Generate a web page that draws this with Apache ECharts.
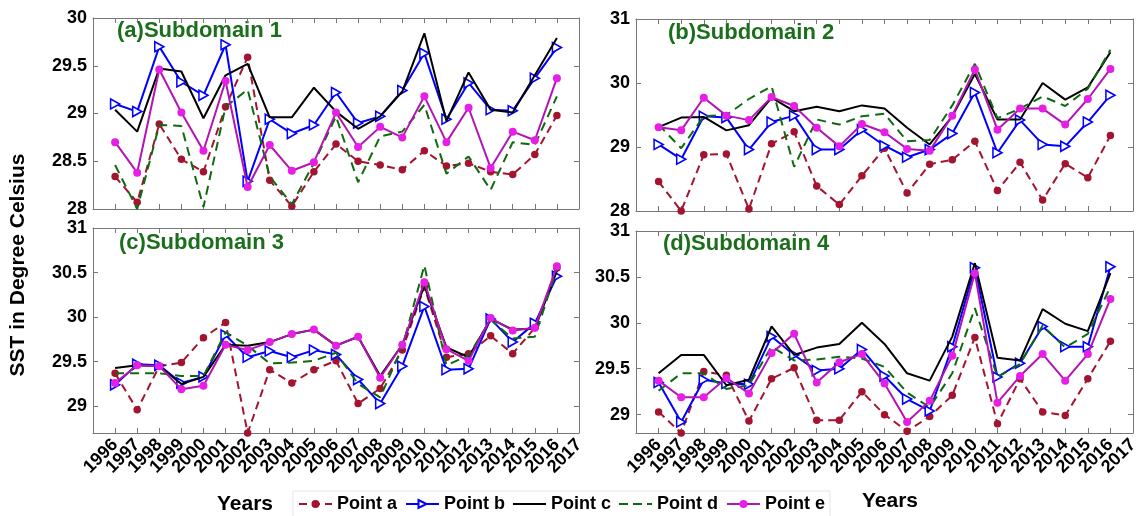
<!DOCTYPE html>
<html><head><meta charset="utf-8">
<script src="https://cdn.jsdelivr.net/npm/echarts@6/dist/echarts.min.js"></script>
<style>html,body{margin:0;padding:0;background:#fff}#c{width:1144px;height:516px}</style>
</head><body><div id="c"></div>
<script>
// ---------- data ----------
const years = [1996,1997,1998,1999,2000,2001,2002,2003,2004,2005,2006,2007,2008,2009,2010,2011,2012,2013,2014,2015,2016];
const xTickYears = [1996,1997,1998,1999,2000,2001,2002,2003,2004,2005,2006,2007,2008,2009,2010,2011,2012,2013,2014,2015,2016,2017];
const seriesNames = ['Point a','Point b','Point c','Point d','Point e'];
const panelTitles = ['(a)Subdomain 1','(b)Subdomain 2','(c)Subdomain 3','(d)Subdomain 4'];
const yTicksA = [28,28.5,29,29.5,30];
const yTicksB = [28,29,30,31];
const yTicksC = [29,29.5,30,30.5,31];
const yTicksD = [29,29.5,30,30.5,31];
const yRangeA = [28,30];
const yRangeB = [28,31];
const yRangeC = [28.7,31];
const yRangeD = [28.8,31];
const xLabel = 'Years';
const yLabel = 'SST in Degree Celsius';

// Subdomain 1
const sub1_a = [28.34,28.07,28.89,28.52,28.39,29.07,29.59,28.30,28.03,28.39,28.68,28.50,28.46,28.41,28.61,28.45,28.48,28.39,28.36,28.57,28.98];
const sub1_b = [29.10,29.02,29.70,29.33,29.19,29.72,28.29,28.94,28.79,28.88,29.22,28.90,28.97,29.24,29.63,28.94,29.32,29.04,29.03,29.37,29.69];
const sub1_c = [29.04,28.81,29.47,29.44,28.95,29.40,29.52,28.96,28.96,29.27,29.02,28.84,28.97,29.23,29.84,28.92,29.43,29.04,29.01,29.40,29.79];
const sub1_d = [28.46,28.00,28.88,28.87,28.02,29.07,29.25,28.34,28.05,28.48,28.97,28.28,28.76,28.81,29.09,28.37,28.55,28.20,28.70,28.67,29.18];
const sub1_e = [28.70,28.38,29.46,29.01,28.61,29.34,28.23,28.67,28.40,28.49,29.01,28.65,28.86,28.75,29.18,28.70,29.06,28.43,28.81,28.72,29.37];
// Subdomain 2
const sub2_a = [28.46,28.00,28.88,28.89,28.03,29.05,29.24,28.39,28.10,28.55,28.98,28.28,28.73,28.80,29.09,28.32,28.76,28.17,28.74,28.52,29.18];
const sub2_b = [29.04,28.81,29.48,29.46,28.96,29.39,29.49,28.96,28.96,29.27,29.02,28.84,28.96,29.21,29.85,28.91,29.42,29.04,29.01,29.39,29.81];
const sub2_c = [29.31,29.46,29.47,29.26,29.34,29.77,29.56,29.63,29.56,29.65,29.60,29.30,29.04,29.48,30.14,29.43,29.43,30.00,29.74,29.93,30.48];
const sub2_d = [29.35,28.98,29.48,29.50,29.75,29.95,28.69,29.43,29.35,29.48,29.52,29.09,29.11,29.65,30.30,29.45,29.60,29.79,29.64,29.91,30.52];
const sub2_e = [29.31,29.26,29.77,29.49,29.42,29.78,29.64,29.30,29.01,29.36,29.23,28.97,28.94,29.49,30.21,29.27,29.60,29.60,29.35,29.75,30.22];
// Subdomain 3
const sub3_a = [29.37,28.96,29.45,29.49,29.77,29.94,28.70,29.41,29.26,29.41,29.51,29.03,29.20,29.63,30.34,29.55,29.59,29.79,29.59,29.88,30.55];
const sub3_b = [29.24,29.47,29.46,29.26,29.33,29.80,29.55,29.62,29.55,29.63,29.58,29.30,29.03,29.45,30.12,29.41,29.42,29.98,29.72,29.93,30.46];
const sub3_c = [29.43,29.46,29.45,29.25,29.33,29.69,29.68,29.72,29.81,29.86,29.68,29.78,29.34,29.69,30.35,29.66,29.55,29.98,29.86,29.87,30.52];
const sub3_d = [29.37,29.37,29.37,29.34,29.34,29.83,29.68,29.48,29.49,29.51,29.60,29.25,29.10,29.66,30.58,29.46,29.57,29.97,29.76,29.78,30.54];
const sub3_e = [29.26,29.46,29.45,29.19,29.23,29.69,29.63,29.72,29.81,29.86,29.68,29.78,29.32,29.69,30.39,29.64,29.51,29.99,29.85,29.88,30.57];
// Subdomain 4
const sub4_a = [29.03,28.80,29.47,29.43,28.93,29.39,29.51,28.94,28.94,29.25,29.00,28.82,28.98,29.21,29.84,28.90,29.39,29.03,28.99,29.39,29.80];
const sub4_b = [29.35,28.92,29.38,29.34,29.33,29.85,29.65,29.48,29.50,29.71,29.42,29.17,29.04,29.74,30.60,29.41,29.56,29.96,29.74,29.74,30.61];
const sub4_c = [29.45,29.65,29.65,29.32,29.38,29.96,29.65,29.73,29.77,30.00,29.77,29.45,29.37,29.85,30.65,29.62,29.59,30.15,29.99,29.91,30.54];
const sub4_d = [29.26,29.45,29.45,29.28,29.32,29.74,29.59,29.60,29.63,29.61,29.52,29.24,29.08,29.45,30.16,29.41,29.55,29.97,29.73,29.88,30.39];
const sub4_e = [29.37,29.19,29.19,29.40,29.23,29.67,29.88,29.35,29.57,29.66,29.34,28.92,29.15,29.64,30.54,29.13,29.42,29.66,29.37,29.66,30.26];

// ---------- layout / style ----------
const panels = [
  {vals:[sub1_a,sub1_b,sub1_c,sub1_d,sub1_e], ticks:yTicksA, range:yRangeA, grid:{left:93, top:18, width:486, height:191}, labels:false, title:[117,31]},
  {vals:[sub2_a,sub2_b,sub2_c,sub2_d,sub2_e], ticks:yTicksB, range:yRangeB, grid:{left:636, top:19, width:497, height:192}, labels:false, title:[668,33]},
  {vals:[sub3_a,sub3_b,sub3_c,sub3_d,sub3_e], ticks:yTicksC, range:yRangeC, grid:{left:93, top:228, width:486, height:205}, labels:true, title:[119,243]},
  {vals:[sub4_a,sub4_b,sub4_c,sub4_d,sub4_e], ticks:yTicksD, range:yRangeD, grid:{left:636, top:231, width:497, height:202}, labels:true, title:[663,244]}
];
const FONT = '"Liberation Sans", Arial, sans-serif';
const frameColor = '#777777';
const green = '#0f690f';
const titleGreen = '#1b6e1b';
const styles = [
  {line:{color:'#a2142f', width:2, type:[8,5]}, item:{color:'#a2142f'}, symbol:'circle', size:7.5},
  {line:{color:'#0000ff', width:2}, item:{color:'#ffffff', borderColor:'#0000ff', borderWidth:1.6}, symbol:'path://M0,0L10,5L0,10Z', size:[9,10]},
  {line:{color:'#000000', width:2}, item:{color:'#000000'}, symbol:'none', size:0},
  {line:{color:green, width:2, type:[9,6]}, item:{color:green}, symbol:'none', size:0},
  {line:{color:'#b414b4', width:2}, item:{color:'#e61ee6'}, symbol:'circle', size:8}
];
// legend icons for the two marker-less lines (plain line / dashed line)
const legendIcons = [null, null, 'path://M0,0h33v2h-33z', 'path://M0,0h9v2h-9zM14,0h9v2h-9zM28,0h5v2h-5z', null];
const xLabelStyle = {rotate:45, margin:9, color:'#000', showMinLabel:true, showMaxLabel:true,
  formatter: v => String(v), fontSize:18, fontWeight:'bold', fontFamily:FONT};
const evenYears = xTickYears.filter((y, j) => j % 2 === 0);
const oddYears = xTickYears.filter((y, j) => j % 2 === 1);

const grids = [], xAxes = [], yAxes = [], series = [], graphics = [];
const extra = [];
panels.forEach((p, i) => {
  grids.push(Object.assign({containLabel:false}, p.grid));
  const tickStyle = {inside:true, length:5, lineStyle:{color:frameColor}};
  const lineStyle = {show:true, onZero:false, lineStyle:{color:frameColor, width:1}};
  xAxes.push({gridIndex:i, type:'value', min:1995, max:2017, interval:1, position:'bottom',
    axisLine:lineStyle, splitLine:{show:false},
    axisTick:Object.assign({customValues:xTickYears}, tickStyle),
    axisLabel:Object.assign({show:p.labels, customValues:evenYears}, xLabelStyle)});
  xAxes.push({gridIndex:i, type:'value', min:1995, max:2017, interval:1, position:'top',
    axisLine:lineStyle, splitLine:{show:false},
    axisTick:Object.assign({customValues:xTickYears}, tickStyle), axisLabel:{show:false}});
  yAxes.push({gridIndex:i, type:'value', min:p.range[0], max:p.range[1], position:'left',
    axisLine:lineStyle, splitLine:{show:false},
    axisTick:Object.assign({customValues:p.ticks}, tickStyle),
    axisLabel:{customValues:p.ticks, margin:6, color:'#000', showMinLabel:true, showMaxLabel:true,
      fontSize:18, fontWeight:'bold', fontFamily:FONT}});
  yAxes.push({gridIndex:i, type:'value', min:p.range[0], max:p.range[1], position:'right',
    axisLine:lineStyle, splitLine:{show:false},
    axisTick:Object.assign({customValues:p.ticks}, tickStyle), axisLabel:{show:false}});
  p.vals.forEach((vals, k) => {
    const st = styles[k];
    series.push({
      name: seriesNames[k], type:'line', xAxisIndex:2*i, yAxisIndex:2*i,
      data: years.map((y, j) => [y, vals[j]]),
      symbol: st.symbol, symbolSize: st.size, showSymbol: st.symbol !== 'none',
      lineStyle: st.line, itemStyle: st.item, z: 2 + k, clip: true
    });
  });
  if (p.labels) extra.push(p);
  graphics.push({type:'text', x:p.title[0], y:p.title[1],
    style:{text:panelTitles[i], fill:titleGreen, font:'bold 22px ' + FONT, textVerticalAlign:'middle'}});
});
// second label layer (odd years) on an identical grid so that every year label is drawn
extra.forEach((p) => {
  const gi = grids.length;
  grids.push(Object.assign({containLabel:false}, p.grid));
  xAxes.push({gridIndex:gi, type:'value', min:1995, max:2017, interval:1, position:'bottom',
    axisLine:{show:false}, axisTick:{show:false}, splitLine:{show:false},
    axisLabel:Object.assign({show:true, customValues:oddYears}, xLabelStyle)});
  yAxes.push({gridIndex:gi, type:'value', min:p.range[0], max:p.range[1], show:false});
});
graphics.push({type:'text', x:245, y:504, style:{text:xLabel, fill:'#000', font:'bold 21px ' + FONT, textAlign:'center', textVerticalAlign:'middle'}});
graphics.push({type:'text', x:890, y:501, style:{text:xLabel, fill:'#000', font:'bold 21px ' + FONT, textAlign:'center', textVerticalAlign:'middle'}});
graphics.push({type:'text', x:18, y:265, rotation:Math.PI/2, style:{text:yLabel, fill:'#000', font:'bold 21px ' + FONT, textAlign:'center', textVerticalAlign:'middle'}});

const legendData = seriesNames.map((n, k) => legendIcons[k]
  ? {name:n, icon:legendIcons[k], itemStyle:{color: styles[k].line.color, borderWidth:0}}
  : {name:n});

const chart = echarts.init(document.getElementById('c'), null, {renderer:'canvas'});
chart.setOption({
  animation:false,
  backgroundColor:'#fff',
  grid: grids, xAxis: xAxes, yAxis: yAxes, series: series, graphic: graphics,
  legend: {data: legendData, left:293, top:491, orient:'horizontal', itemWidth:33, itemHeight:10, itemGap:8,
    symbolKeepAspect:true,
    padding:[4,5], borderColor:'#e3e3e3', borderWidth:1, backgroundColor:'#fff',
    textStyle:{fontSize:18, fontWeight:'bold', color:'#000', fontFamily:FONT}}
});
</script></body></html>
